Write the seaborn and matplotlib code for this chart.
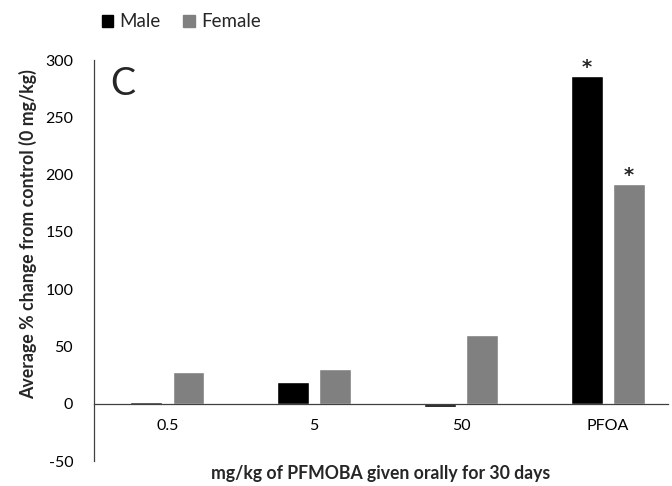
import pandas as pd
import seaborn as sns
import matplotlib.pyplot as plt

doses = ['0.5', '5', '50', 'PFOA']
male = [1.5, 19, -3, 286]
female = [28, 30, 60, 192]
male_sig = [False, False, False, True]
female_sig = [False, False, False, True]

sns.set_theme(style='white')
plt.rcParams['font.family'] = ['Lato', 'DejaVu Sans']
plt.rcParams['axes.unicode_minus'] = False

df = pd.DataFrame({
    'dose': doses * 2,
    'value': male + female,
    'sex': ['Male'] * len(doses) + ['Female'] * len(doses),
})

fig = plt.figure(figsize=(6.72, 4.86), dpi=100)
ax = fig.add_axes([0.140, 0.0514, 0.854, 0.825])

sns.barplot(data=df, x='dose', y='value', hue='sex', order=doses,
            hue_order=['Male', 'Female'], palette=['#000000', '#808080'],
            width=0.573, gap=0.24, ax=ax, legend=False)

ax.set_ylim(-50, 300)
ax.set_xlim(-0.5, 3.41)
ax.set_yticks(range(-50, 301, 50))
ax.tick_params(axis='both', length=0, labelsize=11.5, colors='black')
ax.tick_params(axis='y', pad=15)
ax.tick_params(axis='x', pad=11)

for side in ['top', 'right']:
    ax.spines[side].set_visible(False)
for side in ['left', 'bottom']:
    ax.spines[side].set_color('#404040')
    ax.spines[side].set_linewidth(0.9)
ax.spines['bottom'].set_position(('data', 0))

ax.set_xlabel('mg/kg of PFMOBA given orally for 30 days', fontsize=12.7, fontweight='bold')
ax.set_ylabel('Average % change from control (0 mg/kg)', fontsize=12.8, fontweight='bold')
ax.xaxis.set_label_coords(0.5, -0.01)
ax.yaxis.set_label_coords(-0.10, 0.565)

# significance stars
n = len(doses)
for i, p in enumerate(ax.patches[:2 * n]):
    sig = (male_sig + female_sig)[i]
    val = (male + female)[i]
    if sig:
        ax.annotate('*', (p.get_x() + p.get_width() / 2, val), xytext=(0, -1),
                    textcoords='offset points', ha='center', va='bottom',
                    fontsize=14, fontweight='bold', family='DejaVu Sans')

ax.text(0.028, 0.985, 'C', transform=ax.transAxes, fontsize=27, va='top', ha='left')

handles = [plt.Rectangle((0, 0), 1, 1, color=c) for c in ['#000000', '#808080']]
fig.legend(handles, ['Male', 'Female'], loc='center', bbox_to_anchor=(0.27, 0.955),
           ncol=2, frameon=False, fontsize=13.5, handlelength=0.6, handleheight=0.6,
           handletextpad=0.35, columnspacing=1.2)

fig.savefig('out.png', dpi=100)
